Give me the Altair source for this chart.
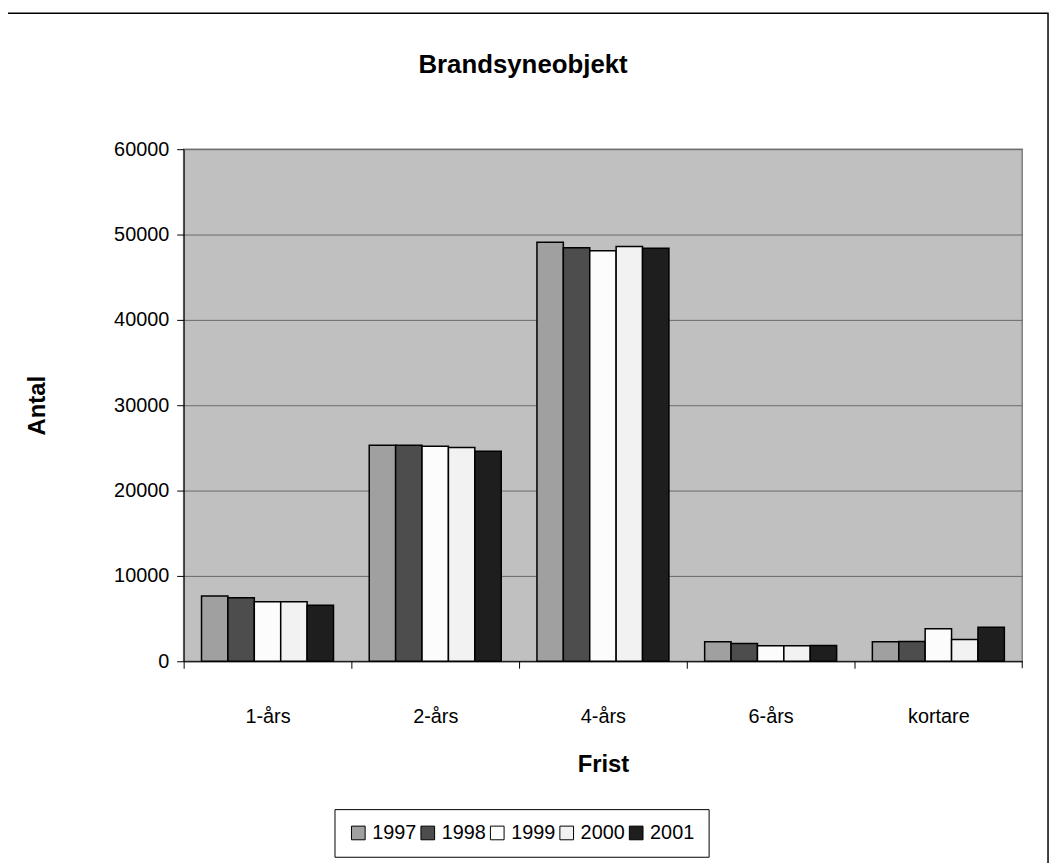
import altair as alt
import pandas as pd

categories = ["1-års", "2-års", "4-års", "6-års", "kortare"]
years = ["1997", "1998", "1999", "2000", "2001"]
v1997 = [7650, 25300, 49100, 2280, 2280]
v1998 = [7450, 25300, 48450, 2090, 2320]
v1999 = [6980, 25200, 48100, 1820, 3820]
v2000 = [6980, 25050, 48600, 1820, 2550]
v2001 = [6550, 24600, 48400, 1850, 3980]
colors = ["#a0a0a0", "#4d4d4d", "#fcfcfc", "#f2f2f2", "#1e1e1e"]
y_ticks = [0, 10000, 20000, 30000, 40000, 50000, 60000]
chart_title = "Brandsyneobjekt"

series = [v1997, v1998, v1999, v2000, v2001]
rows = []
for yr, vals in zip(years, series):
    for c, v in zip(categories, vals):
        rows.append({"Frist": c, "År": yr, "Antal": v})
df = pd.DataFrame(rows)

W, H = 845, 516
FONT = "Liberation Sans"
step = W / 5
p_in = 0.213

bars = alt.Chart(df).mark_bar(stroke="black", strokeWidth=1.5).encode(
    x=alt.X("Frist:N", sort=categories,
            scale=alt.Scale(paddingInner=p_in, paddingOuter=p_in / 2),
            axis=alt.Axis(title="Frist", labelAngle=0, tickOffset=-step / 2,
                          labelOffset=step / 2, tickSize=7, tickColor="black",
                          domainColor="black", labelFontSize=20, labelFont=FONT,
                          labelColor="black", labelPadding=39,
                          titleFontSize=24, titleFont=FONT, titleFontWeight="bold",
                          titleColor="black", titleY=104, titleBaseline="middle")),
    xOffset=alt.XOffset("År:N", sort=years, scale=alt.Scale(paddingInner=0, paddingOuter=0)),
    y=alt.Y("Antal:Q", scale=alt.Scale(domain=[0, 60000], nice=False),
            axis=alt.Axis(title="Antal", values=y_ticks, format="d", tickSize=7,
                          tickColor="black", domainColor="black", gridColor="#6a6a6a",
                          gridWidth=1, labelFontSize=20, labelFont=FONT,
                          labelColor="black", labelPadding=8,
                          titleFontSize=24, titleFont=FONT, titleFontWeight="bold",
                          titleColor="black", titleX=-147, titleY=H / 2,
                          titleAngle=-90, titleBaseline="middle")),
    color=alt.Color("År:N", sort=years,
                    scale=alt.Scale(domain=years, range=colors),
                    legend=alt.Legend(title=None, orient="none", direction="horizontal",
                                      columns=5, legendX=152, legendY=665,
                                      strokeColor="black", fillColor="white",
                                      padding=14, symbolType="square", symbolSize=190,
                                      symbolStrokeColor="black", symbolStrokeWidth=1,
                                      labelFontSize=20, labelFont=FONT,
                                      labelColor="black", columnPadding=1,
                                      labelOffset=4, symbolOffset=0)),
)

frame = alt.Chart(pd.DataFrame({"a": [0]})).mark_rect(
    fill=None, stroke="black", strokeWidth=1.5
).encode(x=alt.value(-181), x2=alt.value(871), y=alt.value(-137), y2=alt.value(760))

title = alt.Chart(pd.DataFrame({"t": [chart_title]})).mark_text(
    font=FONT, fontSize=26, fontWeight="bold", color="black", align="center",
    baseline="middle"
).encode(text="t:N", x=alt.value(342), y=alt.value(-85))

endtick = alt.Chart(pd.DataFrame({"a": [0]})).mark_rule(color="black").encode(
    x=alt.value(W), y=alt.value(H), y2=alt.value(H + 7)
)

chart = alt.layer(frame, bars, endtick, title).properties(
    width=W, height=H,
    autosize=alt.AutoSizeParams(type="none"),
    padding={"left": 177, "top": 139, "right": 29, "bottom": 200},
).configure(background="white").configure_view(
    fill="#c0c0c0", stroke="#808080", strokeWidth=1.5
)

chart.save("out.html", embed_options={"renderer": "svg", "actions": False})
